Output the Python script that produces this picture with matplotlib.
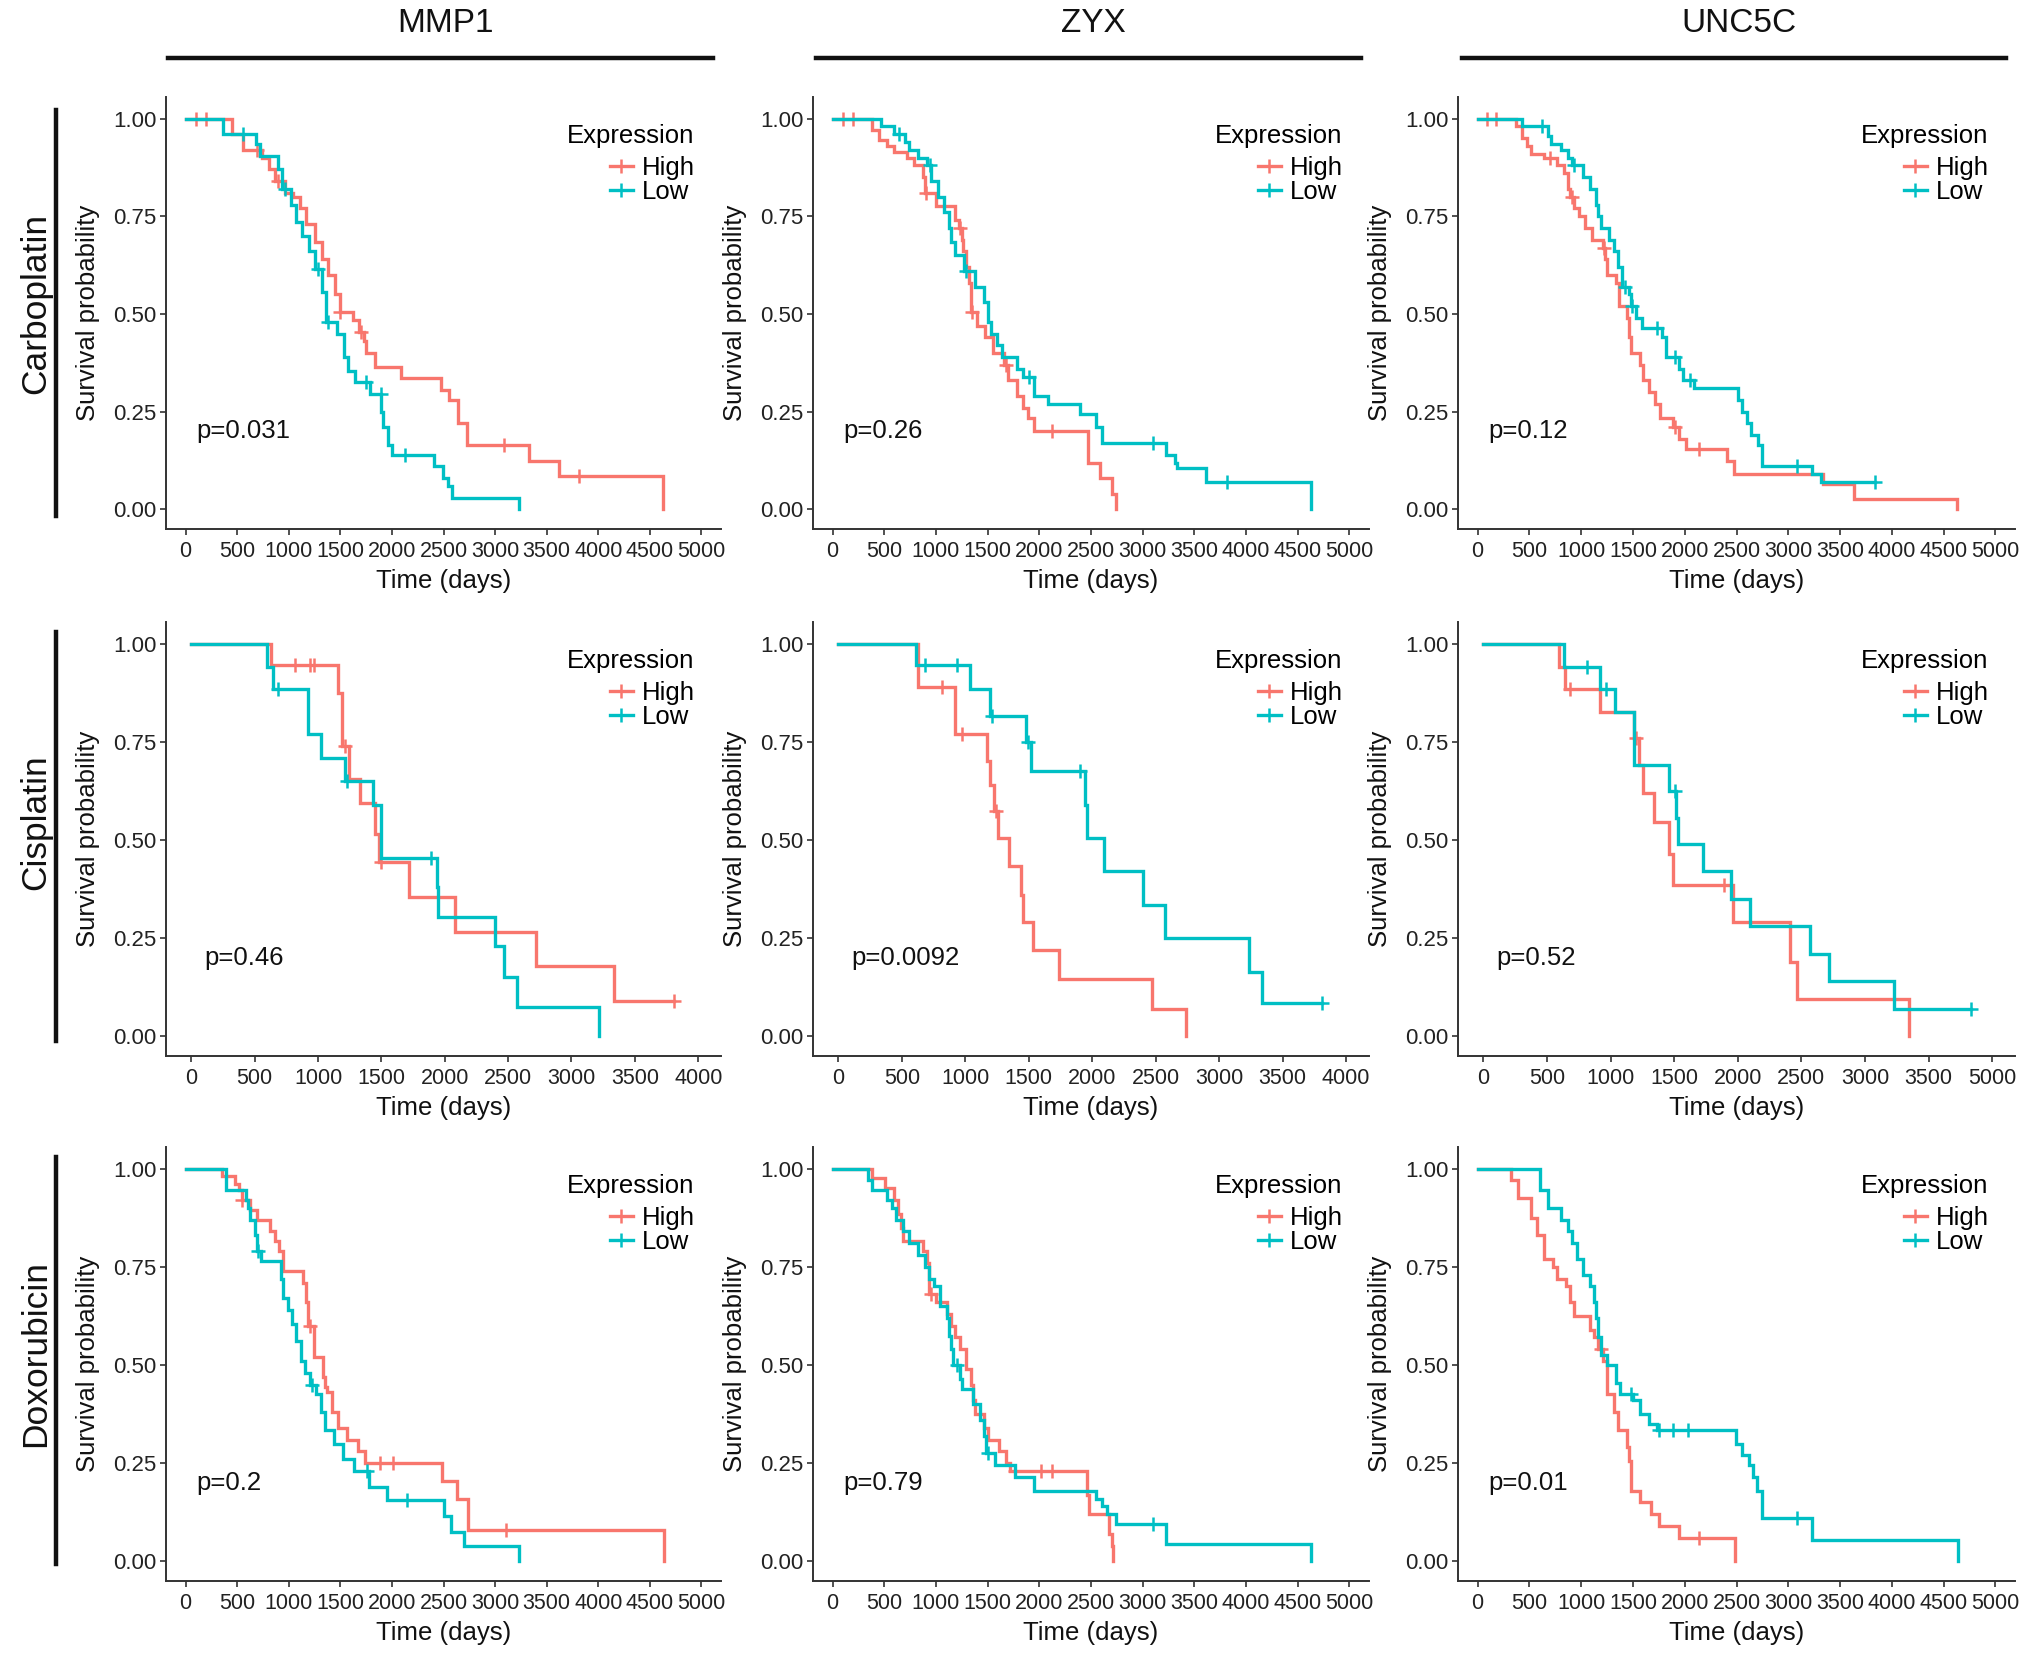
import numpy as np
import matplotlib
matplotlib.use('Agg')
import matplotlib.pyplot as plt
from matplotlib.lines import Line2D

plt.rcParams['font.family'] = ['Liberation Sans', 'DejaVu Sans']

genes = ['MMP1', 'ZYX', 'UNC5C']
drugs = ['Carboplatin', 'Cisplatin', 'Doxorubicin']
high_color = '#F8766D'
low_color = '#00BFC4'

# ---- Carboplatin ----
carbo_mmp1_high_t = [450, 555, 745, 810, 870, 960, 1045, 1110, 1170, 1257, 1321, 1385, 1449, 1492, 1620, 1684, 1726, 1748, 1833, 2089, 2472, 2558, 2643, 2728, 3325, 3623, 4625]
carbo_mmp1_high_s = [0.96, 0.92, 0.90, 0.87, 0.84, 0.81, 0.80, 0.77, 0.73, 0.685, 0.64, 0.60, 0.55, 0.505, 0.485, 0.455, 0.43, 0.40, 0.365, 0.335, 0.305, 0.28, 0.22, 0.165, 0.125, 0.085, 0.0]
carbo_mmp1_high_c = [105, 195, 690, 895, 1500, 1705, 3090, 3815]
carbo_mmp1_low_t = [362, 682, 725, 895, 938, 1023, 1066, 1130, 1194, 1257, 1321, 1364, 1470, 1535, 1577, 1641, 1790, 1897, 1918, 1960, 2003, 2408, 2494, 2540, 2579, 3231]
carbo_mmp1_low_s = [0.96, 0.935, 0.905, 0.87, 0.82, 0.78, 0.735, 0.70, 0.66, 0.615, 0.555, 0.48, 0.45, 0.39, 0.355, 0.325, 0.295, 0.25, 0.21, 0.165, 0.14, 0.11, 0.08, 0.06, 0.03, 0.0]
carbo_mmp1_low_c = [554, 959, 1279, 1385, 1748, 1890, 2131]

carbo_zyx_high_t = [382, 450, 530, 594, 721, 785, 870, 891, 997, 1180, 1222, 1250, 1265, 1295, 1316, 1337, 1400, 1477, 1549, 1654, 1698, 1783, 1845, 1888, 1952, 2470, 2590, 2700, 2740]
carbo_zyx_high_s = [0.97, 0.945, 0.93, 0.915, 0.90, 0.88, 0.85, 0.81, 0.775, 0.74, 0.72, 0.69, 0.66, 0.62, 0.58, 0.505, 0.47, 0.44, 0.40, 0.37, 0.33, 0.29, 0.26, 0.235, 0.20, 0.12, 0.08, 0.04, 0.0]
carbo_zyx_high_c = [100, 200, 900, 1230, 1350, 1680, 2122]
carbo_zyx_low_t = [467, 594, 700, 743, 828, 913, 955, 1019, 1082, 1124, 1146, 1188, 1273, 1380, 1464, 1507, 1528, 1592, 1634, 1783, 1846, 1952, 2080, 2398, 2547, 2611, 3226, 3311, 3333, 3608, 4626]
carbo_zyx_low_s = [0.98, 0.96, 0.94, 0.92, 0.90, 0.88, 0.84, 0.80, 0.76, 0.72, 0.685, 0.65, 0.61, 0.57, 0.53, 0.48, 0.45, 0.42, 0.39, 0.36, 0.34, 0.29, 0.27, 0.245, 0.21, 0.17, 0.14, 0.12, 0.105, 0.07, 0.0]
carbo_zyx_low_c = [640, 940, 1290, 1900, 3098, 3820]

carbo_unc5c_high_t = [366, 430, 472, 514, 640, 767, 830, 872, 893, 935, 977, 1040, 1104, 1209, 1230, 1251, 1335, 1365, 1441, 1462, 1483, 1567, 1601, 1651, 1714, 1757, 1883, 1946, 2009, 2409, 2473, 3336, 3631, 4634]
carbo_unc5c_high_s = [0.98, 0.95, 0.93, 0.91, 0.90, 0.88, 0.86, 0.82, 0.80, 0.77, 0.75, 0.72, 0.69, 0.67, 0.64, 0.60, 0.58, 0.52, 0.49, 0.44, 0.40, 0.37, 0.33, 0.30, 0.27, 0.235, 0.21, 0.18, 0.155, 0.125, 0.09, 0.065, 0.028, 0.0]
carbo_unc5c_high_c = [93, 177, 703, 914, 1220, 1904, 2136]
carbo_unc5c_low_t = [430, 682, 710, 809, 872, 914, 1019, 1083, 1146, 1167, 1188, 1272, 1314, 1356, 1398, 1462, 1483, 1525, 1588, 1778, 1820, 1946, 1988, 2094, 2515, 2557, 2599, 2641, 2704, 2746, 3231, 3315]
carbo_unc5c_low_s = [0.98, 0.955, 0.935, 0.92, 0.90, 0.88, 0.85, 0.82, 0.78, 0.75, 0.72, 0.69, 0.66, 0.62, 0.57, 0.55, 0.52, 0.49, 0.465, 0.44, 0.39, 0.36, 0.33, 0.31, 0.28, 0.25, 0.22, 0.19, 0.165, 0.11, 0.09, 0.07]
carbo_unc5c_low_c = [620, 935, 1420, 1490, 1735, 1904, 2051, 3083, 3842]

# ---- Cisplatin ----
cis_mmp1_high_t = [630, 1157, 1191, 1243, 1328, 1447, 1481, 1719, 2077, 2723, 3336]
cis_mmp1_high_s = [0.945, 0.875, 0.74, 0.655, 0.595, 0.515, 0.445, 0.355, 0.265, 0.18, 0.09]
cis_mmp1_high_c = [817, 936, 970, 1215, 1500, 3813]
cis_mmp1_low_t = [596, 647, 919, 1021, 1209, 1430, 1498, 1935, 1945, 2400, 2468, 2570, 3217]
cis_mmp1_low_s = [0.94, 0.885, 0.77, 0.71, 0.65, 0.59, 0.455, 0.38, 0.305, 0.23, 0.15, 0.075, 0.0]
cis_mmp1_low_c = [681, 1226, 1889]

cis_zyx_high_t = [630, 919, 1174, 1191, 1226, 1260, 1345, 1440, 1454, 1532, 1736, 2468, 2740]
cis_zyx_high_s = [0.89, 0.77, 0.70, 0.64, 0.575, 0.505, 0.435, 0.36, 0.29, 0.22, 0.145, 0.07, 0.0]
cis_zyx_high_c = [817, 970, 1243]
cis_zyx_low_t = [613, 1038, 1191, 1481, 1515, 1940, 1957, 2094, 2400, 2570, 3234, 3336]
cis_zyx_low_s = [0.945, 0.885, 0.815, 0.75, 0.675, 0.59, 0.505, 0.42, 0.335, 0.25, 0.165, 0.085]
cis_zyx_low_c = [681, 936, 1208, 1490, 1906, 3813]

cis_unc5c_high_t = [596, 640, 917, 1186, 1220, 1254, 1338, 1456, 1490, 1961, 2410, 2467, 3343]
cis_unc5c_high_s = [0.94, 0.885, 0.825, 0.76, 0.69, 0.62, 0.545, 0.465, 0.385, 0.29, 0.19, 0.095, 0.0]
cis_unc5c_high_c = [681, 1203, 1894]
cis_unc5c_low_t = [630, 917, 1035, 1186, 1456, 1513, 1530, 1725, 1944, 2096, 2568, 2719, 3225]
cis_unc5c_low_s = [0.94, 0.885, 0.825, 0.69, 0.625, 0.555, 0.49, 0.42, 0.35, 0.28, 0.21, 0.14, 0.07]
cis_unc5c_low_c = [815, 967, 1506, 3832]

# ---- Doxorubicin ----
dox_mmp1_high_t = [350, 478, 520, 542, 627, 691, 819, 862, 904, 947, 1139, 1165, 1182, 1246, 1331, 1350, 1374, 1420, 1480, 1566, 1672, 1736, 2483, 2632, 2739, 4637]
dox_mmp1_high_s = [0.98, 0.96, 0.945, 0.92, 0.895, 0.87, 0.84, 0.815, 0.79, 0.74, 0.71, 0.66, 0.60, 0.52, 0.47, 0.445, 0.43, 0.38, 0.34, 0.31, 0.28, 0.25, 0.205, 0.16, 0.08, 0.0]
dox_mmp1_high_c = [545, 1203, 1886, 2014, 3102]
dox_mmp1_low_t = [392, 585, 606, 627, 670, 690, 734, 926, 947, 990, 1032, 1075, 1118, 1160, 1203, 1267, 1310, 1352, 1438, 1523, 1630, 1779, 1950, 2504, 2568, 2696, 3230]
dox_mmp1_low_s = [0.945, 0.92, 0.90, 0.87, 0.83, 0.79, 0.765, 0.72, 0.67, 0.64, 0.605, 0.56, 0.51, 0.48, 0.45, 0.425, 0.38, 0.335, 0.30, 0.26, 0.23, 0.19, 0.155, 0.115, 0.075, 0.04, 0.0]
dox_mmp1_low_c = [700, 1224, 1758, 2142]

dox_zyx_high_t = [382, 509, 594, 637, 658, 679, 870, 910, 934, 997, 1104, 1146, 1188, 1231, 1295, 1337, 1360, 1380, 1464, 1507, 1613, 1677, 1719, 2462, 2480, 2674, 2700, 2716]
dox_zyx_high_s = [0.975, 0.95, 0.92, 0.885, 0.85, 0.815, 0.79, 0.76, 0.68, 0.66, 0.63, 0.60, 0.57, 0.54, 0.49, 0.45, 0.41, 0.375, 0.34, 0.31, 0.28, 0.25, 0.23, 0.17, 0.12, 0.07, 0.04, 0.0]
dox_zyx_high_c = [955, 1760, 2016, 2122]
dox_zyx_low_t = [340, 380, 530, 573, 615, 679, 743, 828, 891, 934, 976, 1040, 1104, 1125, 1146, 1167, 1230, 1252, 1358, 1422, 1464, 1486, 1570, 1761, 1952, 2547, 2611, 2653, 2738, 3226, 4626]
dox_zyx_low_s = [0.97, 0.945, 0.92, 0.90, 0.87, 0.84, 0.81, 0.78, 0.75, 0.72, 0.70, 0.65, 0.62, 0.575, 0.54, 0.50, 0.465, 0.44, 0.40, 0.36, 0.32, 0.275, 0.245, 0.215, 0.18, 0.16, 0.14, 0.12, 0.095, 0.045, 0.0]
dox_zyx_low_c = [1200, 1500, 3098]

dox_unc5c_high_t = [324, 388, 514, 577, 640, 725, 767, 851, 893, 935, 1083, 1125, 1167, 1209, 1251, 1314, 1356, 1441, 1462, 1483, 1567, 1672, 1756, 1946, 2485]
dox_unc5c_high_s = [0.97, 0.925, 0.875, 0.83, 0.77, 0.75, 0.72, 0.70, 0.66, 0.625, 0.59, 0.57, 0.54, 0.51, 0.425, 0.38, 0.335, 0.29, 0.255, 0.18, 0.15, 0.12, 0.09, 0.06, 0.0]
dox_unc5c_high_c = [1188, 2136]
dox_unc5c_low_t = [598, 682, 809, 872, 914, 956, 1019, 1083, 1125, 1146, 1167, 1188, 1251, 1335, 1377, 1500, 1567, 1651, 1735, 2494, 2557, 2620, 2660, 2700, 2746, 3231, 4642]
dox_unc5c_low_s = [0.945, 0.90, 0.87, 0.84, 0.81, 0.77, 0.73, 0.70, 0.66, 0.62, 0.57, 0.525, 0.50, 0.455, 0.425, 0.41, 0.375, 0.35, 0.335, 0.30, 0.27, 0.245, 0.215, 0.18, 0.11, 0.055, 0.0]
dox_unc5c_low_c = [1483, 1756, 1883, 2030, 3083]

pvals = [['p=0.031', 'p=0.26', 'p=0.12'],
         ['p=0.46', 'p=0.0092', 'p=0.52'],
         ['p=0.2', 'p=0.79', 'p=0.01']]

ticks_5000 = [0, 500, 1000, 1500, 2000, 2500, 3000, 3500, 4000, 4500, 5000]
ticks_4000 = [0, 500, 1000, 1500, 2000, 2500, 3000, 3500, 4000]
labels_unc5c_cis = ['0', '500', '1000', '1500', '2000', '2500', '3000', '3500', '5000']

panels = [
    [(carbo_mmp1_high_t, carbo_mmp1_high_s, carbo_mmp1_high_c, carbo_mmp1_low_t, carbo_mmp1_low_s, carbo_mmp1_low_c, ticks_5000, None),
     (carbo_zyx_high_t, carbo_zyx_high_s, carbo_zyx_high_c, carbo_zyx_low_t, carbo_zyx_low_s, carbo_zyx_low_c, ticks_5000, None),
     (carbo_unc5c_high_t, carbo_unc5c_high_s, carbo_unc5c_high_c, carbo_unc5c_low_t, carbo_unc5c_low_s, carbo_unc5c_low_c, ticks_5000, None)],
    [(cis_mmp1_high_t, cis_mmp1_high_s, cis_mmp1_high_c, cis_mmp1_low_t, cis_mmp1_low_s, cis_mmp1_low_c, ticks_4000, None),
     (cis_zyx_high_t, cis_zyx_high_s, cis_zyx_high_c, cis_zyx_low_t, cis_zyx_low_s, cis_zyx_low_c, ticks_4000, None),
     (cis_unc5c_high_t, cis_unc5c_high_s, cis_unc5c_high_c, cis_unc5c_low_t, cis_unc5c_low_s, cis_unc5c_low_c, ticks_4000, labels_unc5c_cis)],
    [(dox_mmp1_high_t, dox_mmp1_high_s, dox_mmp1_high_c, dox_mmp1_low_t, dox_mmp1_low_s, dox_mmp1_low_c, ticks_5000, None),
     (dox_zyx_high_t, dox_zyx_high_s, dox_zyx_high_c, dox_zyx_low_t, dox_zyx_low_s, dox_zyx_low_c, ticks_5000, None),
     (dox_unc5c_high_t, dox_unc5c_high_s, dox_unc5c_high_c, dox_unc5c_low_t, dox_unc5c_low_s, dox_unc5c_low_c, ticks_5000, None)],
]

W, H = 2032, 1654
col_lr = [(166, 721), (813, 1369), (1458, 2015)]
row_tb = [(97, 529), (622, 1056), (1147, 1581)]
lw = 2.4


def km_draw(ax, t, s, c, color):
   tt = [0] + list(t)
   ss = [1.0] + list(s)
   if len(c) and max(c) > tt[-1]:
      tt.append(max(c))
      ss.append(ss[-1])
   ax.step(tt, ss, where='post', color=color, lw=lw, solid_joinstyle='miter')
   cy = []
   for ci in c:
      idx = np.searchsorted(tt, ci, side='right') - 1
      cy.append(ss[idx])
   ax.plot(c, cy, ls='none', marker='+', color=color, ms=10, mew=1.8)


fig = plt.figure(figsize=(W / 100, H / 100), dpi=100)

for r in range(3):
   for k in range(3):
      ht, hs, hc, lt, ls_, lc, ticks, tlabels = panels[r][k]
      l, rgt = col_lr[k]
      tp, bt = row_tb[r]
      ax = fig.add_axes([l / W, 1 - bt / H, (rgt - l) / W, (bt - tp) / H])
      km_draw(ax, ht, hs, hc, high_color)
      km_draw(ax, lt, ls_, lc, low_color)
      if ticks[-1] == 5000:
         ax.set_xlim(-190, 5190)
      else:
         ax.set_xlim(-200, 4180)
      ax.set_ylim(-0.05, 1.055)
      ax.set_xticks(ticks)
      if tlabels is not None:
         ax.set_xticklabels(tlabels)
      ax.set_yticks([0, 0.25, 0.5, 0.75, 1.0])
      ax.set_yticklabels(['0.00', '0.25', '0.50', '0.75', '1.00'])
      for sp in ['top', 'right']:
         ax.spines[sp].set_visible(False)
      for sp in ['left', 'bottom']:
         ax.spines[sp].set_color('#333333')
         ax.spines[sp].set_linewidth(1.4)
      ax.tick_params(colors='#333333', length=4, width=1.2, labelcolor='#222222')
      ax.tick_params(axis='x', labelsize=15.5, pad=4.5)
      ax.tick_params(axis='y', labelsize=16, pad=3)
      ax.set_xlabel('Time (days)', fontsize=18.5, color='#111111', labelpad=5.5)
      ax.set_ylabel('Survival probability', fontsize=18.5, color='#111111', labelpad=9)
      ax.text(100, 0.2, pvals[r][k], fontsize=18.5, color='#111111', va='center', ha='left')
      handles = [Line2D([0], [0], color=high_color, lw=lw, marker='+', ms=10, mew=1.8),
                 Line2D([0], [0], color=low_color, lw=lw, marker='+', ms=10, mew=1.8)]
      leg = ax.legend(handles, ['High', 'Low'], title='Expression', loc='upper right',
                      bbox_to_anchor=(0.985, 0.98), frameon=False, fontsize=18.5,
                      title_fontsize=18.5, handlelength=0.9, handletextpad=0.35,
                      labelspacing=0.0, alignment='right', borderpad=0.2)
      leg._legend_box.sep = 6

# column headers
for k, g in enumerate(genes):
   l, rgt = col_lr[k]
   cx = (l + rgt) / 2 + 2
   fig.text(cx / W, 1 - 24 / H, g, fontsize=24, ha='center', va='center', color='#111111')
   x0 = [168, 816, 1462][k]
   x1 = [713, 1361, 2006][k]
   fig.add_artist(Line2D([x0 / W, x1 / W], [1 - 58 / H, 1 - 58 / H], color='#111111', lw=3.2))

# row labels
row_lines = [(110, 516), (632, 1041), (1157, 1564)]
row_text_y = [303, 822, 1354]
for r, d in enumerate(drugs):
   y0, y1 = row_lines[r]
   fig.text(36 / W, 1 - row_text_y[r] / H, d, fontsize=25.5, rotation=90,
            ha='center', va='center', color='#111111')
   fig.add_artist(Line2D([56 / W, 56 / W], [1 - y0 / H, 1 - y1 / H], color='#111111', lw=3.2))

fig.savefig('out.png', dpi=100)
